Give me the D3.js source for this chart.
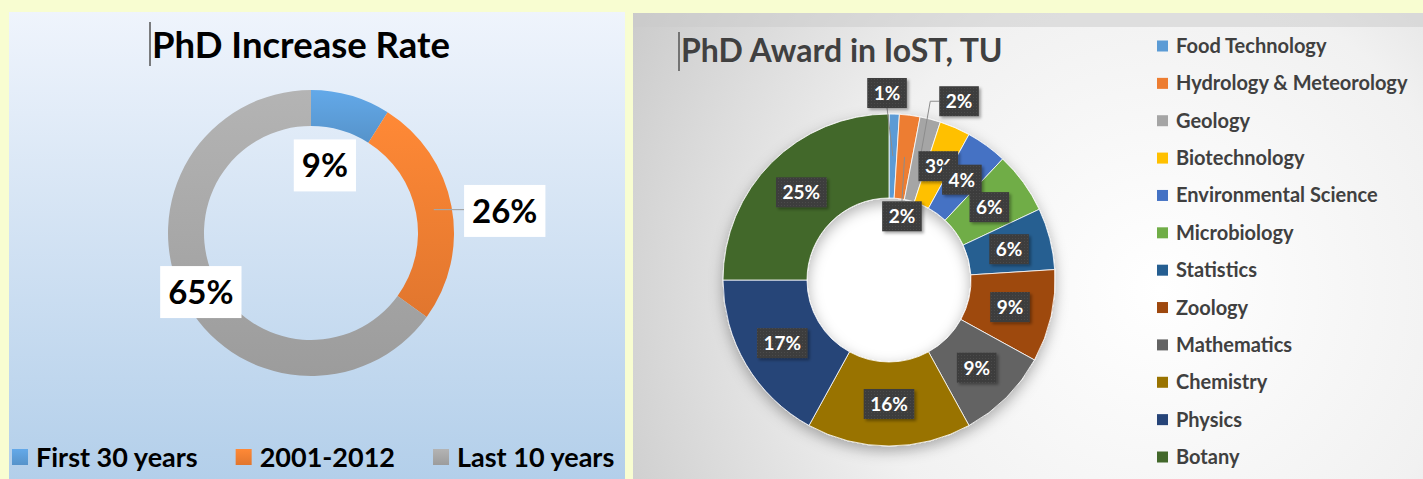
<!DOCTYPE html>
<html>
<head>
<meta charset="utf-8">
<script src="https://cdn.jsdelivr.net/npm/d3@7"></script>
<style>
  html, body { margin: 0; padding: 0; background: #f8fdd1; }
  svg { display: block; font-family: Lato, "Open Sans", sans-serif; }
</style>
</head>
<body>
<svg id="chart" width="1423" height="479"></svg>
<script>
// left doughnut: share of PhDs by period
var periods = ["First 30 years", "2001-2012", "Last 10 years"];
var periodShare = [9, 26, 65];
var periodColors = ["#5b9bd5", "#ed7d31", "#a5a5a5"];

// right doughnut: PhD awards by subject (percent)
var subjects = ["Food Technology", "Hydrology & Meteorology", "Geology", "Biotechnology",
  "Environmental Science", "Microbiology", "Statistics", "Zoology", "Mathematics",
  "Chemistry", "Physics", "Botany"];
var subjectShare = [1, 2, 2, 3, 4, 6, 6, 9, 9, 16, 17, 25];
var subjectColors = ["#5b9bd5", "#ed7d31", "#a5a5a5", "#ffc000", "#4472c4", "#70ad47",
  "#255e91", "#9e480e", "#636363", "#997300", "#264478", "#43682b"];

var svg = d3.select("#chart");
var defs = svg.append("defs");

// ---------- backgrounds ----------
var lg = defs.append("linearGradient").attr("id", "leftBg")
  .attr("x1", 0).attr("y1", 0).attr("x2", 0).attr("y2", 1);
lg.append("stop").attr("offset", 0).attr("stop-color", "#eff4fc");
lg.append("stop").attr("offset", 1).attr("stop-color", "#b3cfea");

var rg = defs.append("radialGradient").attr("id", "rightBg")
  .attr("gradientUnits", "userSpaceOnUse")
  .attr("cx", 1160).attr("cy", 290).attr("r", 620);
rg.append("stop").attr("offset", 0).attr("stop-color", "#ffffff");
rg.append("stop").attr("offset", 0.5).attr("stop-color", "#f1f1f1");
rg.append("stop").attr("offset", 1).attr("stop-color", "#c8c8c8");

svg.append("rect").attr("x", 9).attr("y", 12).attr("width", 616).attr("height", 467)
  .attr("fill", "url(#leftBg)");
svg.append("rect").attr("x", 633).attr("y", 13).attr("width", 790).attr("height", 466)
  .attr("fill", "url(#rightBg)");
svg.append("rect").attr("x", 633).attr("y", 13).attr("width", 790).attr("height", 14)
  .attr("fill", "#c9c9c9").attr("opacity", 0.5);

// slice gradients for left chart (lighter top, darker bottom)
periodColors.forEach(function(c, i) {
  var g = defs.append("linearGradient").attr("id", "pg" + i)
    .attr("x1", 0).attr("y1", 0).attr("x2", 0).attr("y2", 1);
  g.append("stop").attr("offset", 0).attr("stop-color", d3.color(c).brighter(0.25));
  g.append("stop").attr("offset", 1).attr("stop-color", d3.color(c).darker(0.15));
});

// shadow + box texture for right chart
var sh = defs.append("filter").attr("id", "ringShadow")
  .attr("x", "-30%").attr("y", "-30%").attr("width", "160%").attr("height", "160%");
sh.append("feDropShadow").attr("dx", 0).attr("dy", 5).attr("stdDeviation", 7)
  .attr("flood-color", "#000").attr("flood-opacity", 0.3);
var bs = defs.append("filter").attr("id", "boxShadow")
  .attr("x", "-30%").attr("y", "-30%").attr("width", "160%").attr("height", "160%");
bs.append("feDropShadow").attr("dx", 2).attr("dy", 2).attr("stdDeviation", 1.5)
  .attr("flood-color", "#000").attr("flood-opacity", 0.35);
var pat = defs.append("pattern").attr("id", "boxTex").attr("width", 3).attr("height", 3)
  .attr("patternUnits", "userSpaceOnUse");
pat.append("rect").attr("width", 3).attr("height", 3).attr("fill", "#3d3d3d");
pat.append("rect").attr("width", 1).attr("height", 1).attr("fill", "#4c4c4c");

// ---------- left chart ----------
var leftC = { x: 311, y: 233 };
var gL = svg.append("g").attr("transform", "translate(" + leftC.x + "," + leftC.y + ")");
var pieL = d3.pie().sort(null).value(function(d) { return d; });
var arcL = d3.arc().innerRadius(107).outerRadius(143);
var arcsL = pieL(periodShare);

gL.selectAll("path.slice").data(arcsL).enter().append("path")
  .attr("class", "slice")
  .attr("d", arcL)
  .attr("fill", function(d, i) { return "url(#pg" + i + ")"; });

// label placement: radius and angle shift (deg) from slice middle
var leftLabelPlace = [
  { r: 69, da: -4.6 },
  { r: 195, da: 4.3, leader: true },
  { r: 125, da: -1.2 }
];

arcsL.forEach(function(d, i) {
  var p = leftLabelPlace[i];
  var mid = (d.startAngle + d.endAngle) / 2;
  var a = mid + p.da * Math.PI / 180;
  var cx = p.r * Math.sin(a), cy = -p.r * Math.cos(a);
  var g = gL.append("g");
  var t = g.append("text").attr("x", cx).attr("y", cy + 12)
    .attr("text-anchor", "middle").attr("font-size", 33).attr("font-weight", 700)
    .attr("fill", "#000").text(periodShare[i] + "%");
  var w = t.node().getComputedTextLength() + 16;
  g.insert("rect", "text").attr("x", cx - w / 2).attr("y", cy - 26)
    .attr("width", w).attr("height", 52).attr("fill", "#fff");
  if (p.leader) {
    var c = arcL.centroid(d);
    gL.insert("line", "g").attr("x1", c[0]).attr("y1", c[1])
      .attr("x2", cx - w / 2).attr("y2", c[1])
      .attr("stroke", "#a6a6a6").attr("stroke-width", 1.2);
  }
});

svg.append("line").attr("x1", 150).attr("x2", 150).attr("y1", 22).attr("y2", 66)
  .attr("stroke", "#555").attr("stroke-width", 1.5);
svg.append("text").attr("x", 152).attr("y", 58)
  .attr("font-size", 36.5).attr("font-weight", 700).attr("fill", "#000")
  .text("PhD Increase Rate");

// left legend, laid out left to right
var lx = 12;
periods.forEach(function(name, i) {
  svg.append("rect").attr("x", lx).attr("y", 449).attr("width", 16).attr("height", 16)
    .attr("fill", "url(#pg" + i + ")");
  var t = svg.append("text").attr("x", lx + 24).attr("y", 467)
    .attr("font-size", 27).attr("font-weight", 700).attr("fill", "#000").text(name);
  lx += 24 + t.node().getComputedTextLength() + 38;
});

// ---------- right chart ----------
var rightC = { x: 889, y: 280 };
var gR = svg.append("g").attr("transform", "translate(" + rightC.x + "," + rightC.y + ")");
var pieR = d3.pie().sort(null).value(function(d) { return d; });
var arcR = d3.arc().innerRadius(82).outerRadius(166);
var arcsR = pieR(subjectShare);

gR.append("circle").attr("r", 83).attr("fill", "#ffffff");
gR.append("g").attr("filter", "url(#ringShadow)")
  .selectAll("path").data(arcsR).enter().append("path")
  .attr("d", arcR)
  .attr("fill", function(d, i) { return subjectColors[i]; })
  .attr("stroke", "#ffffff").attr("stroke-width", 0.8);

// label placement overrides (radius, angle shift in deg, leader side)
var rightLabelPlace = {
  0: { r: 187, da: -2.4, leader: "bottom" },
  1: { r: 65, da: 4.3, leader: "top" },
  2: { r: 192, da: 7, leader: "left" }
};

var leaders = gR.append("g");
arcsR.forEach(function(d, i) {
  var p = rightLabelPlace[i] || { r: 124, da: 0 };
  var mid = (d.startAngle + d.endAngle) / 2;
  var a = mid + p.da * Math.PI / 180;
  var cx = p.r * Math.sin(a), cy = -p.r * Math.cos(a);
  var g = gR.append("g");
  var t = g.append("text").attr("x", cx).attr("y", cy + 7)
    .attr("text-anchor", "middle").attr("font-size", 19).attr("font-weight", 700)
    .attr("fill", "#fff").text(subjectShare[i] + "%");
  var w = t.node().getComputedTextLength() + 13, h = 30;
  g.insert("rect", "text").attr("x", cx - w / 2).attr("y", cy - h / 2)
    .attr("width", w).attr("height", h).attr("fill", "url(#boxTex)")
    .attr("filter", "url(#boxShadow)");
  if (p.leader) {
    var c = arcR.centroid(d);
    var pts;
    if (p.leader === "bottom") pts = [[cx, cy + h / 2], c];
    else if (p.leader === "top") pts = [[cx, cy - h / 2], c];
    else pts = [[cx - w / 2, cy], [cx - w / 2 - 9, cy], c];
    leaders.append("path").attr("d", d3.line()(pts))
      .attr("fill", "none").attr("stroke", "#8c8c8c").attr("stroke-width", 1);
  }
});

svg.append("line").attr("x1", 679).attr("x2", 679).attr("y1", 32).attr("y2", 71)
  .attr("stroke", "#555").attr("stroke-width", 1.5);
svg.append("text").attr("x", 681).attr("y", 62)
  .attr("font-size", 32).attr("font-weight", 700).attr("fill", "#404040")
  .text("PhD Award in IoST, TU");

// right legend
var legR = svg.append("g").attr("transform", "translate(1157,46)");
var row = d3.scaleLinear().domain([0, subjects.length - 1]).range([0, 411]);
subjects.forEach(function(name, i) {
  legR.append("rect").attr("x", 0).attr("y", row(i) - 5.5).attr("width", 11).attr("height", 11)
    .attr("fill", subjectColors[i]);
  legR.append("text").attr("x", 19).attr("y", row(i) + 7)
    .attr("font-size", 20).attr("font-weight", 700).attr("fill", "#404040").text(name);
});
</script>
</body>
</html>
